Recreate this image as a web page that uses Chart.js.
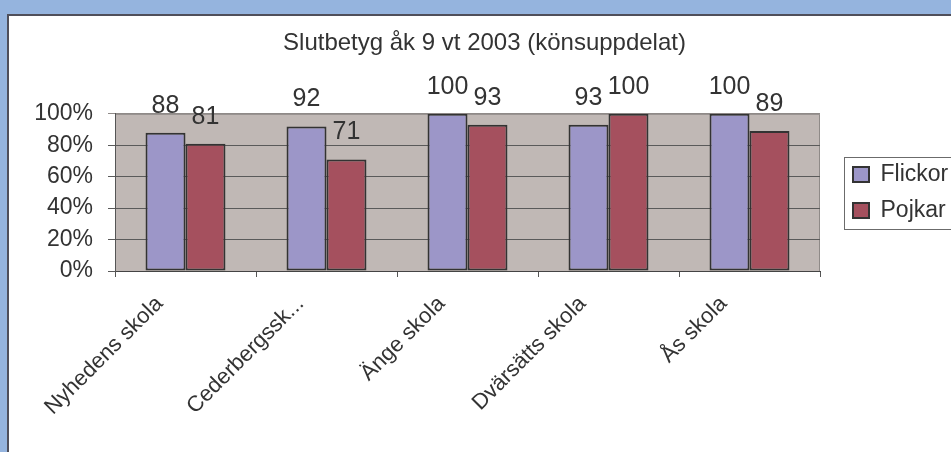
<!DOCTYPE html>
<html>
<head>
<meta charset="utf-8">
<title>Slutbetyg åk 9 vt 2003</title>
<script src="https://cdn.jsdelivr.net/npm/chart.js@4.4.1/dist/chart.umd.min.js"></script>
<style>
  html,body{margin:0;padding:0;width:951px;height:452px;overflow:hidden;background:#95b4de;}
  #frame{position:absolute;left:7px;top:14px;width:960px;height:460px;background:#fff;border-left:2px solid #4f4f5a;border-top:2px solid #4f4f5a;}
  #c{position:absolute;left:0;top:0;}
</style>
</head>
<body>
<div id="frame"></div>
<canvas id="c" width="951" height="452"></canvas>
<script>
const SCHOOLS = ['Nyhedens skola','Cederbergssk...','Änge skola','Dvärsätts skola','Ås skola'];
const FLICKOR = [88, 92, 100, 93, 100];
const POJKAR  = [81, 71, 93, 100, 89];
const Y_MIN = 0, Y_MAX = 100, Y_STEP = 20;

const FONT = "'Liberation Sans', Arial, sans-serif";
const TXT = '#333';

// grå plotyta + ram uppe/höger
const plotBg = {
  id:'plotBg',
  beforeDraw(chart){
    const {ctx, chartArea:a} = chart;
    ctx.save();
    ctx.fillStyle = '#c0b8b5';
    ctx.fillRect(a.left, a.top, a.right-a.left, a.bottom-a.top);
    ctx.strokeStyle = '#8f8a88';
    ctx.lineWidth = 1;
    ctx.beginPath();
    ctx.moveTo(a.left, a.top+0.5);
    ctx.lineTo(a.right-0.5, a.top+0.5);
    ctx.lineTo(a.right-0.5, a.bottom);
    ctx.stroke();
    ctx.restore();
  }
};

// värden ovanför staplarna
const barValues = {
  id:'barValues',
  afterDatasetsDraw(chart){
    const ctx = chart.ctx;
    ctx.save();
    ctx.font = '25px ' + FONT;
    ctx.fillStyle = TXT;
    ctx.textAlign = 'center';
    ctx.textBaseline = 'alphabetic';
    chart.data.datasets.forEach((ds,i)=>{
      chart.getDatasetMeta(i).data.forEach((bar,j)=>{
        ctx.fillText(String(ds.data[j]), bar.x, bar.y - 20);
      });
    });
    ctx.restore();
  }
};

// ram runt förklaringen
const legendBox = {
  id:'legendBox',
  afterDraw(chart){
    const lg = chart.legend;
    if(!lg || !lg.legendHitBoxes || !lg.legendHitBoxes.length) return;
    const hb = lg.legendHitBoxes;
    const first = hb[0], last = hb[hb.length-1];
    const ctx = chart.ctx;
    ctx.save();
    ctx.strokeStyle = '#6b6b6b';
    ctx.lineWidth = 1;
    const x = Math.round(lg.left + 4) + 0.5;
    const y = Math.round(first.top - 6) + 0.5;
    const b = Math.round(last.top + last.height + 7) + 0.5;
    ctx.strokeRect(x, y, chart.width + 10 - x, b - y);
    ctx.restore();
  }
};

new Chart(document.getElementById('c').getContext('2d'), {
  type:'bar',
  data:{
    labels:SCHOOLS,
    datasets:[
      {label:'Flickor', data:FLICKOR, backgroundColor:'#9c96c8', borderColor:'#333', borderWidth:2, borderSkipped:false},
      {label:'Pojkar',  data:POJKAR,  backgroundColor:'#a5505e', borderColor:'#333', borderWidth:2, borderSkipped:false}
    ]
  },
  options:{
    responsive:false,
    animation:false,
    devicePixelRatio:1,
    layout:{padding:{left:18, top:0, right:0, bottom:0}},
    datasets:{bar:{categoryPercentage:0.567, barPercentage:1.0}},
    plugins:{
      title:{
        display:true,
        text:'Slutbetyg åk 9 vt 2003 (könsuppdelat)',
        color:TXT,
        font:{family:FONT, size:24, weight:'normal'},
        padding:{top:29, bottom:56}
      },
      legend:{
        display:true,
        position:'right',
        fullSize:false,
        maxWidth:111,
        labels:{
          color:TXT,
          font:{family:FONT, size:23, lineHeight:1.13},
          boxWidth:16, boxHeight:15,
          padding:13
        }
      },
      tooltip:{enabled:false}
    },
    scales:{
      x:{
        offset:true,
        grid:{offset:true, drawOnChartArea:false, drawTicks:true, tickLength:6, color:'#555'},
        border:{color:'#444', width:1},
        ticks:{
          color:TXT, font:{family:FONT, size:22},
          autoSkip:false, maxRotation:45, minRotation:45,
          padding:14, labelOffset:-26
        },
        afterFit(s){ s.height = 181; }
      },
      y:{
        min:Y_MIN, max:Y_MAX,
        grid:{
          color:c => (c.tick && c.tick.value === Y_MAX) ? '#8f8a88' : '#5a5a5a',
          tickLength:7, lineWidth:1
        },
        border:{color:'#555', width:1},
        ticks:{
          stepSize:Y_STEP, color:TXT, font:{family:FONT, size:23}, padding:15,
          callback:v => v + '%'
        },
        afterFit(s){ s.width = 97; }
      },
      gap:{
        type:'linear', position:'right', display:true,
        grid:{display:false}, border:{display:false}, ticks:{display:false},
        afterFit(s){ s.width = 20; }
      }
    }
  },
  plugins:[plotBg, barValues, legendBox]
});
</script>
</body>
</html>
